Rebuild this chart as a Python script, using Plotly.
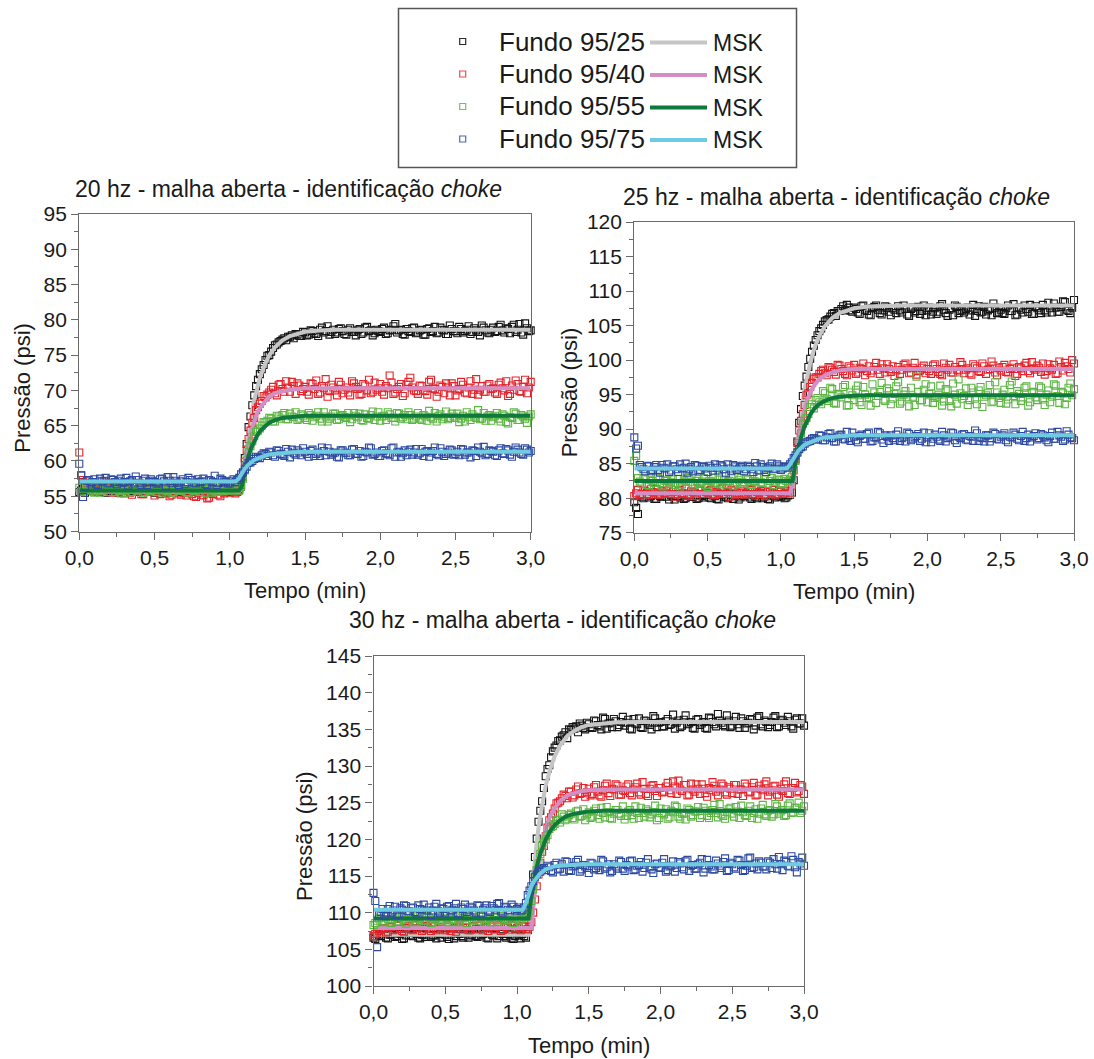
import plotly.graph_objects as go

W, H = 1094, 1059
FONT = "Arial, Liberation Sans, sans-serif"
INK = "#1a1a1a"
FRAME = "#6a6a6a"

# Logged pressure: samples on the quarter grid (0, 0.025, ... 3.0 min) and
# the interleaved samples half a step later (0.0125, 0.0375, ... 2.9875 min)
T_DATA = [round(i * 0.025, 4) for i in range(121)]
T_MID = [round(0.0125 + i * 0.025, 4) for i in range(120)]

# ---------------- 20 hz ----------------
P20_95_25 = [
    55.6, 56.1, 55.8, 56.2, 55.7, 55.9, 56.0, 55.5, 55.8, 56.1,
    55.6, 55.9, 56.2, 55.7, 55.8, 56.0, 55.6, 55.9, 56.1, 55.7,
    55.5, 55.9, 56.0, 55.8, 55.6, 56.2, 55.9, 55.7, 55.8, 56.0,
    55.6, 55.9, 55.7, 56.1, 55.8, 55.5, 55.9, 56.0, 55.7, 55.8,
    55.6, 55.9, 55.7, 56.4, 60.4, 64.8, 67.9, 70.6, 72.3, 73.6,
    74.9, 75.5, 76.4, 76.8, 77.2, 77.1, 77.6, 77.4, 77.9, 77.7,
    78.2, 77.9, 78.4, 78.0, 78.6, 78.2, 79.1, 78.3, 78.0, 78.7,
    78.4, 77.9, 78.8, 78.3, 78.5, 78.0, 78.9, 78.4, 77.8, 78.6,
    78.3, 78.9, 78.1, 78.6, 79.4, 78.5, 78.0, 78.7, 78.3, 78.9,
    78.2, 78.6, 77.9, 78.8, 78.4, 78.1, 78.9, 78.5, 78.0, 78.7,
    78.4, 79.0, 78.2, 78.6, 78.0, 78.8, 78.3, 79.2, 78.5, 78.1,
    78.9, 78.4, 79.3, 78.2, 78.7, 79.0, 78.3, 79.4, 77.9, 78.8,
    78.5,
]
P20_95_25_B = [
    55.8, 55.5, 56.0, 55.7, 56.1, 55.6, 55.9, 56.2, 55.7, 55.9,
    55.5, 56.0, 55.8, 56.1, 55.6, 55.9, 55.7, 56.2, 55.8, 55.6,
    56.0, 55.7, 55.9, 55.5, 56.1, 55.8, 55.6, 56.0, 55.9, 55.7,
    56.1, 55.6, 55.8, 55.9, 55.5, 56.0, 55.7, 55.8, 56.1, 55.6,
    55.8, 55.7, 56.0, 57.8, 62.4, 66.3, 69.3, 71.5, 73.0, 74.3,
    75.0, 76.0, 76.5, 77.0, 77.4, 77.6, 77.8, 78.0, 77.7, 78.3,
    77.8, 78.5, 78.1, 77.7, 78.9, 78.4, 77.9, 78.6, 78.2, 78.8,
    78.0, 78.6, 78.3, 77.8, 78.7, 78.2, 79.0, 78.5, 78.1, 78.4,
    78.7, 78.0, 78.5, 79.1, 78.2, 78.6, 77.9, 78.4, 78.8, 78.1,
    78.5, 77.9, 78.7, 78.3, 79.0, 78.2, 78.6, 78.0, 79.2, 78.4,
    78.1, 78.7, 78.4, 79.1, 78.3, 78.5, 77.8, 78.9, 78.2, 78.6,
    78.3, 79.0, 78.5, 78.8, 78.1, 79.3, 78.6, 78.2, 79.5, 78.4,
]
P20_95_40 = [
    61.2, 57.3, 56.4, 55.9, 56.8, 55.6, 56.2, 57.1, 56.0, 55.5,
    56.3, 55.8, 55.4, 56.1, 55.2, 55.9, 56.5, 55.3, 55.7, 56.2,
    55.1, 55.6, 56.0, 55.4, 55.0, 55.7, 56.3, 55.2, 55.5, 55.9,
    55.3, 54.9, 55.6, 55.1, 54.7, 55.4, 55.8, 55.2, 55.6, 56.0,
    55.5, 55.9, 55.6, 56.6, 59.9, 63.1, 65.4, 67.2, 68.1, 69.2,
    69.4, 70.1, 69.6, 70.8, 70.2, 71.3, 69.8, 70.6, 71.0, 69.9,
    70.5, 69.4, 70.9, 71.4, 69.7, 70.3, 69.1, 70.8, 70.0, 71.2,
    69.6, 70.4, 69.3, 71.0, 70.2, 69.5, 70.7, 71.5, 69.8, 70.1,
    70.9, 69.4, 70.3, 71.1, 69.7, 70.5, 69.2, 70.8, 71.8, 70.0,
    69.5, 70.6, 69.9, 71.2, 70.3, 69.1, 70.7, 69.6, 70.4, 71.0,
    69.3, 70.2, 70.8, 69.6, 71.3, 70.1, 69.4, 70.6, 69.8, 70.9,
    70.3, 69.5, 71.1, 70.0, 69.2, 70.7, 71.4, 69.9, 70.5, 69.6,
    71.2,
]
P20_95_40_B = [
    58.0, 56.9, 56.2, 56.6, 55.8, 56.4, 55.7, 56.3, 56.8, 55.9,
    55.6, 56.4, 55.9, 55.5, 56.0, 55.7, 55.3, 56.1, 55.6, 55.8,
    55.9, 55.3, 55.8, 55.6, 55.2, 56.0, 55.4, 55.9, 55.1, 55.6,
    55.0, 55.5, 55.2, 55.8, 54.8, 55.3, 55.6, 55.0, 55.4, 55.8,
    55.7, 55.4, 55.9, 58.3, 61.6, 64.3, 66.1, 67.6, 68.5, 69.0,
    69.7, 70.5, 69.3, 70.9, 69.8, 70.4, 71.2, 69.5, 70.7, 70.2,
    69.8, 71.0, 70.2, 69.5, 70.6, 71.6, 69.9, 70.4, 69.3, 70.8,
    70.1, 69.7, 71.3, 70.5, 69.4, 70.9, 70.0, 69.6, 71.1, 70.3,
    69.8, 70.6, 72.1, 69.5, 70.2, 70.9, 69.6, 71.2, 70.4, 69.9,
    70.7, 70.0, 69.4, 71.5, 70.2, 69.8, 70.5, 71.0, 69.3, 70.6,
    70.0, 71.2, 69.7, 70.4, 69.5, 71.6, 70.1, 69.8, 70.7, 70.2,
    69.7, 70.8, 70.3, 71.3, 69.5, 70.1, 70.9, 69.8, 71.5, 70.4,
]
P20_95_55 = [
    56.2, 55.7, 56.4, 55.9, 55.5, 56.1, 55.8, 56.3, 55.6, 55.9,
    56.2, 55.4, 55.8, 56.0, 55.6, 56.3, 55.9, 55.5, 56.1, 55.7,
    55.9, 56.2, 55.5, 55.8, 56.0, 55.6, 56.3, 55.7, 55.9, 55.4,
    56.1, 55.8, 55.6, 56.2, 55.9, 55.5, 56.0, 55.7, 56.3, 55.8,
    56.0, 55.7, 56.1, 56.4, 58.7, 61.3, 62.8, 64.1, 64.6, 65.5,
    65.7, 66.0, 65.6, 66.3, 66.5, 65.9, 66.7, 66.2, 65.8, 66.6,
    66.1, 66.8, 65.7, 66.4, 66.0, 66.9, 65.6, 66.3, 66.7, 65.9,
    66.5, 66.1, 65.5, 66.8, 66.2, 65.8, 66.6, 66.0, 67.0, 66.3,
    65.7, 66.4, 66.9, 66.1, 65.6, 66.7, 66.2, 65.9, 66.5, 66.0,
    66.8, 65.8, 66.3, 67.1, 66.0, 65.6, 66.6, 66.2, 65.9, 66.7,
    66.1, 65.5, 66.4, 66.9, 65.8, 66.3, 67.2, 66.0, 65.7, 66.5,
    66.2, 66.8, 65.6, 66.4, 65.3, 66.1, 66.7, 65.8, 66.3, 65.4,
    66.6,
]
P20_95_55_B = [
    55.6, 56.0, 55.8, 56.2, 55.7, 55.5, 56.1, 55.9, 56.3, 55.6,
    55.8, 56.1, 55.5, 56.0, 55.9, 55.7, 56.2, 55.6, 55.8, 56.1,
    55.6, 55.9, 56.1, 55.7, 55.5, 56.2, 55.8, 56.0, 55.6, 55.9,
    55.7, 56.0, 55.9, 55.5, 56.1, 55.8, 55.6, 56.2, 55.7, 56.0,
    55.9, 56.2, 55.8, 57.5, 60.1, 62.1, 63.5, 64.3, 65.0, 65.5,
    66.1, 65.6, 66.4, 66.0, 66.8, 65.9, 66.3, 66.9, 66.0, 66.4,
    65.8, 66.5, 66.2, 66.9, 65.6, 66.3, 66.0, 66.7, 65.8, 66.4,
    66.2, 66.8, 65.9, 66.4, 66.7, 65.7, 66.1, 66.5, 65.8, 66.9,
    66.3, 65.8, 66.6, 66.1, 66.8, 66.0, 66.5, 66.9, 65.8, 66.3,
    66.0, 66.5, 65.7, 66.2, 66.8, 66.4, 65.9, 67.0, 66.1, 66.3,
    66.7, 66.0, 65.6, 66.2, 66.6, 66.1, 65.9, 66.8, 66.3, 65.7,
    66.4, 66.0, 66.6, 65.5, 66.2, 66.9, 65.8, 66.5, 66.0, 66.3,
]
P20_95_75 = [
    59.6, 54.9, 57.2, 56.8, 57.4, 56.6, 57.1, 57.6, 56.9, 57.3,
    56.7, 57.5, 57.0, 56.5, 57.3, 57.8, 56.9, 57.2, 56.6, 57.4,
    57.0, 56.8, 57.5, 56.4, 57.2, 57.7, 56.9, 57.1, 56.7, 57.6,
    57.3, 56.8, 57.0, 57.5, 56.6, 57.2, 57.9, 56.9, 57.3, 57.0,
    56.8, 57.4, 57.3, 58.1, 58.8, 59.7, 60.0, 60.6, 60.4, 61.1,
    60.7, 61.2, 60.6, 61.4, 60.9, 61.7, 60.5, 61.1, 61.5, 60.8,
    61.3, 60.6, 61.6, 61.0, 60.7, 61.4, 61.8, 60.9, 61.2, 60.5,
    61.5, 61.1, 60.8, 61.7, 61.0, 60.6, 61.3, 61.9, 60.9, 61.2,
    60.7, 61.5, 61.0, 61.8, 60.6, 61.3, 61.1, 60.8, 61.6, 61.2,
    60.9, 61.7, 61.3, 60.6, 61.4, 61.0, 61.8, 60.7, 61.2, 61.5,
    61.0, 60.8, 61.6, 61.2, 60.5, 61.4, 61.9, 61.1, 60.8, 61.5,
    61.3, 60.7, 61.8, 61.0, 61.5, 60.6, 61.9, 61.2, 60.9, 61.6,
    61.4,
]
P20_95_75_B = [
    57.9, 56.4, 57.3, 57.0, 56.7, 57.5, 57.2, 56.8, 57.4, 57.0,
    57.2, 56.9, 57.6, 57.1, 56.8, 57.3, 56.6, 57.5, 57.0, 57.2,
    56.8, 57.4, 57.1, 57.7, 56.9, 57.2, 56.6, 57.4, 57.0, 57.3,
    56.9, 57.4, 57.1, 56.7, 57.3, 57.0, 56.6, 57.5, 57.1, 56.8,
    57.2, 57.0, 57.6, 58.4, 59.2, 59.8, 60.3, 60.5, 60.8, 61.0,
    61.3, 60.8, 61.5, 61.0, 60.7, 61.3, 61.6, 60.9, 61.2, 61.8,
    61.0, 61.4, 60.7, 61.2, 61.9, 60.8, 61.3, 61.1, 60.6, 61.5,
    61.2, 60.8, 61.6, 61.0, 61.4, 60.7, 61.2, 61.8, 61.0, 60.7,
    61.4, 61.1, 60.8, 61.9, 61.2, 60.6, 61.5, 61.3, 60.9, 61.7,
    61.1, 60.7, 61.4, 61.2, 61.9, 60.8, 61.3, 61.0, 61.6, 60.9,
    61.3, 61.7, 60.9, 61.2, 61.5, 60.7, 61.3, 62.0, 61.0, 61.4,
    60.8, 61.5, 61.1, 61.7, 60.9, 61.3, 61.6, 61.0, 61.8, 61.2,
]

# ---------------- 25 hz ----------------
P25_95_25 = [
    79.4, 77.7, 80.2, 80.6, 80.1, 80.5, 79.9, 80.3, 80.7, 80.2,
    80.4, 79.8, 80.3, 80.6, 80.0, 80.5, 80.2, 79.9, 80.4, 80.1,
    80.6, 80.0, 80.3, 79.8, 80.5, 80.2, 80.7, 79.9, 80.4, 80.1,
    80.3, 80.6, 79.9, 80.2, 80.5, 80.0, 80.4, 79.8, 80.3, 80.6,
    80.2, 80.0, 80.4, 80.8, 85.6, 90.9, 94.8, 97.6, 100.2, 102.1,
    103.6, 104.6, 105.6, 105.9, 106.7, 106.4, 107.1, 107.8, 108.0, 107.2,
    107.6, 106.9, 107.8, 107.3, 106.6, 107.5, 107.9, 106.8, 107.2, 107.6,
    106.5, 107.3, 107.8, 106.9, 107.4, 106.4, 107.6, 107.1, 106.7, 107.9,
    107.2, 106.6, 107.5, 107.0, 108.1, 106.8, 107.3, 106.5, 107.7, 107.1,
    106.9, 107.6, 107.2, 106.4, 107.8, 107.0, 106.6, 107.4, 108.2, 106.8,
    107.3, 106.7, 107.9, 107.1, 106.5, 107.6, 106.9, 107.4, 108.0, 106.7,
    107.5, 106.8, 107.2, 108.3, 106.9, 107.6, 107.0, 108.5, 107.3, 106.8,
    108.7,
]
P25_95_25_B = [
    78.6, 80.4, 80.0, 80.7, 80.3, 79.9, 80.5, 80.2, 80.6, 79.8,
    80.3, 80.6, 80.1, 79.9, 80.5, 80.2, 80.7, 80.0, 80.3, 80.5,
    80.1, 80.4, 79.9, 80.6, 80.2, 80.0, 80.5, 80.3, 79.8, 80.4,
    80.6, 80.1, 80.4, 80.0, 80.7, 80.2, 79.9, 80.5, 80.1, 80.3,
    80.4, 80.1, 80.5, 82.6, 88.2, 92.9, 96.3, 99.0, 101.2, 102.9,
    104.2, 105.1, 105.8, 106.3, 106.8, 107.1, 107.4, 107.2, 107.6, 107.0,
    107.4, 106.7, 107.9, 107.1, 106.5, 107.7, 107.3, 106.6, 107.8, 107.0,
    107.5, 106.8, 107.2, 107.9, 106.6, 107.4, 106.9, 107.7, 107.1, 106.5,
    107.6, 107.0, 106.7, 107.8, 107.3, 106.4, 107.5, 107.9, 106.8, 107.2,
    107.4, 106.6, 108.0, 107.1, 106.9, 107.7, 107.2, 106.5, 107.6, 107.0,
    106.8, 107.5, 107.1, 108.1, 106.6, 107.3, 107.9, 107.0, 106.7, 107.8,
    107.2, 108.0, 106.9, 107.5, 108.2, 107.0, 107.7, 108.4, 107.1, 107.6,
]
P25_95_40 = [
    80.3, 81.2, 80.6, 81.0, 80.4, 80.9, 81.3, 80.5, 80.8, 81.1,
    80.6, 80.2, 81.0, 80.7, 81.4, 80.5, 80.9, 80.3, 81.1, 80.6,
    80.8, 81.2, 80.4, 80.7, 81.5, 80.6, 80.2, 81.0, 80.7, 81.3,
    80.5, 80.9, 81.2, 80.4, 80.8, 81.0, 80.3, 80.9, 81.2, 80.6,
    80.9, 80.7, 81.1, 81.8, 85.7, 89.8, 92.2, 94.9, 96.1, 97.3,
    97.5, 98.4, 98.1, 99.0, 98.6, 97.9, 99.2, 98.4, 97.8, 98.9,
    99.3, 98.2, 98.7, 97.8, 99.1, 98.5, 99.6, 98.0, 98.8, 99.4,
    98.3, 97.7, 99.0, 98.6, 99.5, 98.1, 98.9, 97.9, 98.5, 99.2,
    98.7, 98.0, 99.4, 98.3, 97.8, 98.9, 99.3, 98.2, 98.6, 99.7,
    98.1, 98.8, 97.9, 99.1, 98.4, 99.5, 98.0, 98.7, 99.2, 97.8,
    98.5, 99.3, 98.2, 98.9, 97.7, 99.0, 98.4, 99.6, 98.1, 98.8,
    99.2, 98.3, 97.9, 99.4, 98.6, 98.0, 99.8, 98.5, 99.1, 98.2,
    99.5,
]
P25_95_40_B = [
    80.7, 80.4, 81.1, 80.6, 81.3, 80.8, 80.5, 81.0, 80.7, 81.4,
    80.9, 80.5, 81.2, 80.7, 80.3, 81.0, 80.8, 81.3, 80.6, 80.9,
    81.1, 80.5, 80.9, 81.3, 80.6, 80.9, 81.2, 80.4, 80.8, 81.0,
    80.7, 81.3, 80.6, 80.9, 81.1, 80.5, 81.0, 80.7, 80.4, 81.1,
    80.6, 81.0, 80.8, 84.0, 88.0, 91.2, 93.5, 95.2, 96.7, 97.5,
    98.0, 98.6, 97.8, 98.9, 98.3, 99.3, 98.7, 98.0, 99.1, 98.5,
    98.0, 98.9, 99.5, 98.4, 98.1, 99.0, 98.6, 99.4, 98.2, 98.7,
    99.1, 98.5, 98.0, 99.3, 98.8, 98.2, 99.6, 98.4, 98.9, 98.1,
    98.4, 99.2, 98.7, 98.0, 99.5, 98.6, 98.2, 99.0, 98.5, 99.3,
    98.6, 98.1, 99.4, 98.8, 98.3, 99.1, 98.6, 99.8, 98.2, 98.9,
    99.0, 98.3, 98.7, 99.4, 98.0, 98.8, 99.2, 98.4, 99.7, 98.6,
    98.9, 99.5, 98.4, 98.8, 99.3, 98.1, 99.0, 99.6, 98.7, 100.0,
]
P25_95_55 = [
    85.4, 82.9, 82.1, 82.7, 81.8, 82.5, 83.0, 82.2, 81.7, 82.6,
    82.3, 81.9, 82.8, 82.0, 82.4, 83.1, 81.8, 82.5, 82.2, 82.9,
    81.6, 82.4, 82.1, 82.7, 83.2, 82.0, 82.5, 81.8, 82.3, 82.9,
    82.1, 82.6, 81.9, 82.4, 83.0, 82.2, 84.3, 82.5, 81.9, 82.7,
    82.2, 82.8, 82.4, 83.1, 85.4, 88.0, 90.8, 91.6, 93.2, 93.0,
    94.5, 93.6, 95.2, 94.1, 95.8, 93.7, 94.9, 96.1, 93.4, 95.3,
    94.2, 96.3, 93.5, 95.0, 94.6, 96.5, 93.8, 95.4, 94.3, 95.9,
    93.6, 95.1, 96.8, 94.0, 95.5, 93.3, 94.7, 97.6, 94.2, 95.7,
    93.9, 96.2, 94.5, 95.0, 93.4, 95.8, 94.1, 96.6, 93.7, 95.2,
    94.8, 93.5, 96.0, 94.4, 95.6, 93.2, 94.9, 96.4, 94.0, 95.3,
    93.8, 95.7, 94.3, 96.9, 93.6, 95.1, 94.6, 96.2, 93.9, 95.4,
    94.2, 96.0, 93.5, 95.6, 94.7, 96.3, 93.8, 95.2, 94.5, 96.6,
    95.8,
]
P25_95_55_B = [
    86.1, 82.4, 82.8, 81.9, 82.6, 82.2, 82.9, 81.8, 82.5, 82.1,
    82.7, 82.2, 81.7, 82.6, 82.9, 82.3, 82.0, 82.8, 82.4, 81.9,
    82.5, 82.9, 82.2, 82.0, 82.7, 82.4, 83.0, 82.1, 82.6, 82.3,
    82.8, 82.0, 82.5, 83.1, 82.3, 82.7, 82.1, 82.9, 82.4, 82.6,
    82.0, 82.5, 82.7, 84.1, 86.7, 89.4, 91.2, 92.2, 93.6, 94.2,
    93.9, 95.5, 94.4, 96.0, 93.8, 95.1, 94.6, 96.4, 93.5, 94.9,
    95.7, 93.9, 96.1, 94.5, 93.4, 95.3, 94.8, 96.7, 94.1, 95.5,
    94.4, 96.2, 93.7, 95.0, 94.6, 96.0, 93.5, 95.4, 94.2, 96.5,
    95.1, 93.8, 94.7, 96.3, 94.0, 95.6, 93.3, 95.0, 97.2, 94.4,
    95.9, 94.2, 95.3, 93.6, 96.1, 94.7, 95.2, 93.9, 96.8, 94.5,
    95.0, 93.7, 96.4, 94.8, 95.5, 94.1, 96.0, 93.4, 95.2, 94.6,
    96.2, 94.3, 95.0, 93.9, 96.5, 94.8, 95.4, 93.6, 96.0, 94.9,
]
P25_95_75 = [
    88.8, 87.6, 84.5, 83.9, 84.6, 84.1, 84.8, 83.7, 84.4, 84.9,
    84.0, 84.6, 83.8, 84.3, 85.0, 84.2, 83.9, 84.7, 84.1, 84.5,
    83.8, 84.4, 84.9, 84.0, 84.6, 83.6, 84.3, 84.8, 84.1, 84.5,
    83.9, 84.7, 84.2, 85.1, 84.0, 84.5, 83.8, 84.6, 84.2, 84.9,
    84.1, 84.5, 84.4, 85.2, 86.2, 87.1, 87.5, 88.1, 88.3, 88.7,
    88.5, 89.0, 88.4, 89.3, 88.7, 88.2, 89.1, 88.6, 89.6, 88.3,
    88.9, 88.1, 89.2, 88.6, 89.5, 88.3, 88.8, 89.4, 88.0, 88.9,
    89.1, 88.4, 89.7, 88.7, 88.2, 89.3, 88.6, 89.0, 88.3, 89.5,
    88.8, 88.1, 89.2, 88.5, 89.6, 88.2, 88.9, 89.4, 88.0, 88.7,
    89.3, 88.4, 88.9, 89.8, 88.3, 88.7, 89.1, 88.2, 89.5, 88.6,
    88.9, 89.4, 88.1, 88.8, 89.2, 88.4, 89.6, 88.7, 88.2, 89.0,
    88.5, 89.3, 88.8, 88.1, 89.5, 88.6, 89.1, 88.3, 89.7, 88.8,
    88.4,
]
P25_95_75_B = [
    87.2, 84.8, 84.2, 84.7, 83.9, 84.5, 84.1, 84.8, 84.3, 83.8,
    84.6, 84.2, 84.9, 84.4, 83.7, 84.5, 84.8, 84.0, 84.6, 84.3,
    84.7, 84.0, 84.4, 84.8, 84.2, 84.9, 83.9, 84.6, 84.3, 84.7,
    84.2, 84.5, 83.8, 84.6, 84.9, 84.1, 84.4, 85.0, 84.3, 84.6,
    84.3, 84.6, 84.9, 85.8, 86.6, 87.4, 87.9, 88.2, 88.6, 88.5,
    89.1, 88.4, 88.8, 89.4, 88.2, 88.9, 89.2, 88.5, 88.7, 89.5,
    88.4, 89.0, 88.6, 89.3, 88.2, 88.8, 89.6, 88.5, 89.1, 88.3,
    88.7, 89.2, 88.3, 88.9, 89.5, 88.4, 88.8, 89.3, 88.6, 88.1,
    89.4, 88.6, 88.9, 88.3, 89.1, 88.7, 89.5, 88.4, 88.9, 89.2,
    88.5, 89.0, 88.3, 89.4, 88.8, 88.2, 89.1, 88.7, 89.3, 88.5,
    89.1, 88.4, 88.9, 89.5, 88.6, 89.0, 88.3, 89.2, 88.8, 89.4,
    88.7, 89.1, 88.4, 89.0, 88.6, 89.6, 88.9, 88.5, 89.2, 88.7,
]

# ---------------- 30 hz ----------------
P30_95_25 = [
    106.6, 107.1, 106.8, 107.3, 106.5, 107.0, 106.7, 107.2, 106.4, 106.9,
    107.3, 106.8, 107.1, 106.5, 107.0, 107.4, 106.7, 106.9, 107.2, 106.6,
    107.0, 106.4, 107.3, 106.8, 107.1, 106.6, 107.2, 106.9, 107.4, 106.7,
    106.9, 107.2, 106.5, 107.0, 107.3, 106.8, 107.1, 106.6, 107.0, 106.4,
    107.2, 106.5, 106.8, 107.6, 112.3, 117.6, 122.4, 125.2, 128.6, 130.1,
    132.0, 132.8, 133.5, 134.2, 133.8, 134.9, 135.1, 134.6, 135.5, 135.0,
    135.7, 135.2, 136.1, 135.4, 136.6, 135.1, 135.9, 136.4, 135.3, 136.0,
    135.5, 136.3, 135.0, 135.8, 136.5, 135.2, 136.1, 135.6, 136.8, 135.3,
    136.0, 135.4, 136.4, 135.7, 135.1, 136.2, 135.5, 136.9, 135.8, 135.2,
    136.3, 135.6, 136.0, 135.1, 136.5, 135.7, 137.1, 135.9, 135.4, 136.2,
    135.5, 136.7, 135.2, 136.1, 135.8, 136.4, 135.0, 136.6, 135.7, 136.2,
    135.3, 136.0, 136.8, 135.4, 136.3, 135.6, 136.1, 135.1, 136.5, 135.8,
    135.5,
]
P30_95_25_B = [
    106.4, 106.9, 107.2, 106.6, 107.0, 107.4, 106.8, 107.1, 106.5, 107.3,
    106.9, 107.2, 106.6, 107.0, 106.7, 107.3, 106.9, 106.5, 107.1, 107.4,
    106.7, 107.0, 106.5, 107.2, 106.8, 107.3, 106.6, 107.0, 106.8, 107.2,
    107.1, 106.6, 107.3, 106.9, 106.5, 107.2, 106.8, 107.1, 106.5, 106.8,
    106.9, 107.1, 106.6, 109.4, 115.2, 120.1, 123.9, 127.0, 129.6, 131.2,
    132.5, 133.4, 134.0, 134.6, 135.0, 135.3, 135.4, 135.8, 135.2, 135.9,
    135.3, 136.2, 135.6, 135.0, 136.4, 135.8, 135.3, 136.1, 135.6, 136.7,
    135.9, 135.1, 136.4, 135.7, 135.3, 136.2, 135.8, 135.0, 136.5, 135.9,
    135.4, 136.1, 135.6, 137.0, 135.9, 135.3, 136.3, 135.7, 136.0, 135.1,
    136.4, 135.8, 135.2, 136.6, 136.0, 135.4, 136.2, 135.6, 136.9, 135.3,
    136.1, 135.7, 136.5, 135.2, 135.9, 136.3, 135.5, 136.8, 135.4, 136.0,
    135.6, 136.6, 135.3, 136.2, 135.9, 136.7, 135.4, 136.3, 135.8, 136.5,
]
P30_95_40 = [
    106.8, 107.3, 107.6, 107.9, 107.4, 108.1, 107.7, 108.3, 107.5, 107.9,
    108.2, 107.6, 107.9, 108.4, 107.7, 108.0, 107.5, 108.2, 107.8, 108.5,
    107.6, 108.1, 107.8, 107.4, 108.3, 107.9, 108.0, 107.6, 108.2, 107.7,
    108.4, 107.9, 107.5, 108.1, 107.8, 108.3, 107.6, 108.0, 107.7, 108.2,
    107.9, 107.6, 108.1, 107.8, 108.7, 111.8, 115.2, 118.3, 120.4, 122.6,
    123.5, 124.9, 125.2, 126.1, 125.6, 126.5, 126.0, 127.2, 126.3, 125.8,
    126.9, 126.2, 127.4, 126.0, 126.7, 127.6, 125.9, 126.8, 127.3, 126.1,
    126.6, 127.5, 126.0, 127.1, 126.4, 127.8, 126.2, 126.9, 127.4, 125.9,
    127.0, 126.5, 127.7, 126.3, 127.2, 128.0, 126.6, 127.4, 126.1, 126.8,
    127.5, 126.2, 126.9, 125.8, 126.7, 127.3, 126.0, 127.6, 126.4, 127.1,
    126.3, 127.4, 126.8, 125.9, 127.2, 126.5, 127.7, 126.1, 126.9, 127.5,
    126.0, 126.7, 127.3, 125.8, 126.6, 127.9, 126.2, 127.0, 126.4, 127.4,
    126.2,
]
P30_95_40_B = [
    107.1, 107.5, 107.8, 107.3, 108.0, 107.6, 108.2, 107.8, 107.4, 108.1,
    107.7, 108.3, 107.9, 107.5, 108.2, 107.8, 108.4, 107.6, 108.0, 107.7,
    108.3, 107.5, 107.9, 108.1, 107.7, 108.4, 107.6, 108.1, 107.8, 108.2,
    107.6, 108.0, 108.3, 107.7, 108.1, 107.5, 108.2, 107.9, 108.3, 107.7,
    108.0, 108.2, 107.7, 108.1, 110.0, 113.6, 116.8, 119.1, 121.6, 123.0,
    124.2, 125.0, 125.6, 125.9, 126.5, 125.7, 126.8, 126.2, 127.0, 126.4,
    126.0, 127.1, 126.5, 125.8, 127.3, 126.3, 126.9, 127.5, 126.1, 126.7,
    127.2, 126.3, 126.8, 127.6, 126.1, 126.9, 125.9, 127.3, 126.6, 127.0,
    126.4, 127.2, 126.7, 127.9, 126.2, 126.8, 127.4, 126.0, 127.6, 126.5,
    126.9, 127.5, 126.3, 127.0, 127.8, 126.5, 126.8, 127.3, 126.1, 126.9,
    127.4, 126.2, 126.8, 127.6, 126.4, 127.1, 126.0, 127.3, 126.7, 127.9,
    126.5, 127.2, 126.1, 126.9, 127.5, 126.3, 127.0, 127.7, 126.6, 127.2,
]
P30_95_55 = [
    108.3, 108.9, 109.3, 108.7, 109.1, 108.6, 109.4, 108.8, 109.2, 108.5,
    109.0, 109.5, 108.7, 109.2, 108.9, 109.6, 108.6, 109.1, 109.4, 108.8,
    109.3, 108.7, 109.0, 109.5, 108.8, 109.2, 108.6, 109.4, 109.0, 108.9,
    109.6, 108.8, 109.2, 108.7, 109.3, 109.0, 109.5, 108.9, 109.1, 108.6,
    109.3, 109.0, 109.4, 109.6, 111.6, 114.8, 116.7, 119.1, 120.0, 121.4,
    121.8, 122.6, 122.3, 123.1, 122.8, 123.5, 122.7, 123.9, 123.2, 122.6,
    123.7, 123.1, 124.2, 122.8, 123.6, 124.4, 122.9, 123.5, 124.0, 123.2,
    122.7, 123.8, 123.3, 124.5, 122.9, 123.6, 124.1, 123.0, 123.7, 122.6,
    124.2, 123.4, 122.8, 123.9, 124.6, 123.1, 123.5, 122.7, 124.0, 123.3,
    123.8, 122.9, 124.3, 123.2, 123.6, 124.7, 123.0, 123.4, 122.8, 124.1,
    123.5, 124.4, 122.9, 123.7, 123.2, 124.5, 123.6, 122.8, 124.2, 123.4,
    123.9, 123.1, 124.8, 123.5, 124.0, 123.3, 124.9, 123.7, 124.3, 123.6,
    124.5,
]
P30_95_55_B = [
    108.6, 109.2, 108.9, 109.4, 108.7, 109.1, 108.8, 109.5, 109.0, 108.7,
    109.3, 108.8, 109.1, 109.6, 108.9, 109.3, 108.7, 109.0, 109.5, 109.1,
    108.8, 109.4, 109.1, 108.7, 109.3, 109.0, 109.5, 108.9, 109.2, 109.6,
    109.1, 108.9, 109.4, 109.0, 108.8, 109.5, 109.2, 109.0, 109.4, 109.1,
    108.9, 109.2, 109.5, 110.2, 113.2, 115.8, 118.0, 119.6, 120.6, 121.7,
    122.1, 122.7, 123.4, 122.6, 123.3, 122.9, 123.8, 123.1, 124.1, 123.4,
    122.9, 123.9, 123.3, 124.3, 123.0, 123.7, 122.8, 124.0, 123.5, 124.5,
    123.2, 124.0, 122.8, 123.6, 124.3, 123.1, 123.9, 123.4, 124.6, 122.9,
    123.6, 124.1, 123.0, 123.7, 124.4, 122.8, 123.5, 124.2, 123.1, 123.8,
    124.4, 123.3, 123.9, 122.9, 124.0, 123.6, 124.8, 123.2, 123.7, 124.3,
    123.1, 123.8, 124.6, 123.3, 123.9, 122.9, 124.1, 123.5, 124.7, 123.2,
    124.0, 123.4, 124.5, 123.8, 123.2, 124.6, 123.6, 124.3, 125.0, 123.9,
]
P30_95_75 = [
    112.7, 105.3, 110.1, 109.6, 110.5, 110.0, 110.8, 109.8, 110.4, 110.9,
    110.2, 110.7, 109.9, 110.5, 111.1, 110.3, 109.7, 110.8, 110.2, 110.6,
    110.0, 110.9, 110.4, 111.2, 109.8, 110.5, 110.1, 110.8, 110.3, 111.0,
    109.9, 110.6, 110.2, 110.9, 110.4, 111.3, 110.0, 110.7, 110.3, 110.8,
    110.5, 110.2, 110.7, 112.4, 113.6, 114.9, 115.6, 115.9, 115.8, 116.2,
    115.5, 116.8, 116.0, 115.6, 116.9, 115.7, 116.4, 117.2, 115.9, 116.3,
    115.4, 116.7, 116.1, 115.8, 117.0, 116.2, 115.5, 116.6, 116.0, 116.9,
    115.7, 116.3, 117.1, 115.9, 116.5, 115.6, 116.8, 116.2, 115.4, 116.7,
    116.1, 117.3, 115.8, 116.4, 115.6, 116.9, 116.2, 117.0, 115.7, 116.5,
    116.0, 116.8, 115.5, 117.2, 116.3, 115.9, 116.7, 116.1, 117.4, 115.8,
    116.6, 116.0, 117.1, 115.7, 116.4, 117.5, 116.2, 115.9, 116.8, 116.3,
    117.0, 116.1, 116.6, 117.6, 115.8, 116.9, 116.3, 117.2, 115.5, 116.7,
    116.4,
]
P30_95_75_B = [
    111.6, 109.8, 110.5, 110.0, 110.9, 110.3, 109.7, 110.6, 111.0, 110.2,
    110.6, 110.1, 111.0, 110.4, 109.8, 110.7, 110.3, 111.2, 110.0, 110.5,
    110.8, 110.2, 110.6, 109.9, 110.7, 111.1, 110.3, 110.6, 110.0, 110.9,
    110.4, 111.0, 110.1, 110.6, 111.2, 110.2, 110.8, 110.4, 111.1, 110.3,
    110.7, 110.4, 111.3, 113.0, 114.3, 115.2, 115.6, 116.1, 116.4, 115.7,
    116.5, 115.9, 116.6, 117.0, 115.8, 116.3, 116.9, 115.6, 116.5, 116.1,
    116.8, 115.9, 116.4, 117.2, 116.0, 116.6, 115.7, 116.3, 117.1, 116.0,
    116.5, 117.0, 115.8, 116.4, 116.9, 116.1, 117.3, 115.9, 116.6, 116.2,
    116.8, 115.6, 116.3, 117.0, 116.1, 116.7, 115.9, 117.2, 116.4, 116.0,
    116.6, 117.3, 116.0, 116.5, 115.9, 117.1, 116.4, 116.9, 115.7, 116.8,
    116.2, 117.2, 116.5, 115.8, 117.4, 116.1, 116.7, 117.0, 116.3, 115.9,
    116.8, 117.3, 116.0, 116.6, 117.1, 116.4, 117.7, 116.2, 116.9, 117.5,
]

# MSK model responses, evaluated on a common time grid (min)
T_FIT = [0.00, 1.04, 1.06, 1.08, 1.10, 1.12, 1.14, 1.16, 1.18, 1.20, 1.23,
         1.26, 1.30, 1.35, 1.40, 1.45, 1.50, 1.60, 1.70, 1.85, 2.00, 3.00]

MSK20_95_25 = [55.9, 55.9, 55.9, 55.9, 60.0, 63.4, 66.1, 68.4, 70.2, 71.8, 73.5,
               74.9, 76.1, 77.1, 77.7, 78.0, 78.3, 78.5, 78.6, 78.6, 78.6, 78.6]
MSK20_95_40 = [55.6, 55.6, 55.6, 56.6, 59.8, 62.2, 64.1, 65.6, 66.7, 67.5, 68.4,
               69.1, 69.6, 69.9, 70.1, 70.2, 70.3, 70.3, 70.3, 70.3, 70.3, 70.3]
MSK20_95_55 = [55.8, 55.8, 55.8, 56.4, 58.6, 60.4, 61.7, 62.7, 63.5, 64.2, 64.9,
               65.4, 65.8, 66.1, 66.2, 66.3, 66.4, 66.4, 66.4, 66.4, 66.4, 66.4]
MSK20_95_75 = [57.1, 57.1, 57.5, 58.3, 58.9, 59.4, 59.8, 60.1, 60.3, 60.5, 60.7,
               60.9, 61.0, 61.15, 61.2, 61.25, 61.3, 61.3, 61.3, 61.3, 61.3, 61.3]

MSK25_95_25 = [80.4, 80.4, 80.4, 80.4, 85.4, 89.5, 92.8, 95.6, 97.8, 99.6, 101.8,
               103.4, 104.9, 106.1, 106.8, 107.2, 107.5, 107.75, 107.85, 107.9, 107.9, 107.9]
MSK25_95_40 = [80.7, 80.7, 80.7, 81.9, 85.8, 88.8, 91.1, 92.9, 94.3, 95.3, 96.4,
               97.2, 97.8, 98.2, 98.5, 98.6, 98.7, 98.7, 98.7, 98.7, 98.7, 98.7]
MSK25_95_55 = [82.5, 82.5, 82.5, 82.5, 85.2, 87.4, 89.0, 90.3, 91.3, 92.1, 93.0,
               93.6, 94.1, 94.5, 94.7, 94.8, 94.85, 94.9, 94.9, 94.9, 94.9, 94.9]
MSK25_95_75 = [84.3, 84.3, 84.8, 85.6, 86.3, 86.9, 87.3, 87.7, 87.9, 88.1, 88.4,
               88.6, 88.8, 88.9, 89.0, 89.05, 89.1, 89.1, 89.1, 89.1, 89.1, 89.1]

MSK30_95_25 = [107.0, 107.0, 107.0, 107.0, 112.2, 116.6, 120.1, 123.0, 125.3, 127.3, 129.5,
               131.2, 132.8, 134.1, 134.8, 135.3, 135.6, 135.8, 135.95, 136.0, 136.0, 136.0]
MSK30_95_40 = [107.9, 107.9, 107.9, 107.9, 107.9, 112.1, 115.3, 117.9, 119.8, 121.4, 123.1,
               124.2, 125.2, 126.0, 126.3, 126.6, 126.7, 126.8, 126.8, 126.8, 126.8, 126.8]
MSK30_95_55 = [109.2, 109.2, 109.2, 109.2, 112.1, 114.5, 116.4, 117.9, 119.1, 120.0, 121.1,
               121.9, 122.6, 123.2, 123.5, 123.7, 123.8, 123.9, 123.9, 123.9, 123.9, 123.9]
MSK30_95_75 = [110.4, 110.4, 111.2, 112.6, 113.6, 114.3, 114.9, 115.3, 115.6, 115.9, 116.1,
               116.3, 116.4, 116.5, 116.55, 116.6, 116.6, 116.6, 116.6, 116.6, 116.6, 116.6]

SERIES_NAMES = ["Fundo 95/25", "Fundo 95/40", "Fundo 95/55", "Fundo 95/75"]
MARKER_COLORS = ["#141414", "#e3242b", "#5db544", "#2c4aa0"]
LEGEND_MARKER_COLORS = ["#2a2a2a", "#ec4a50", "#74c45a", "#5366b4"]
FIT_COLORS = ["#c6c6c6", "#d48ec6", "#0d7a3b", "#6ecbe0"]
FIT_NAME = "MSK"

Y_TICKS_20 = [50, 55, 60, 65, 70, 75, 80, 85, 90, 95]
Y_TICKS_25 = [75, 80, 85, 90, 95, 100, 105, 110, 115, 120]
Y_TICKS_30 = [100, 105, 110, 115, 120, 125, 130, 135, 140, 145]
X_TICKS = [0.0, 0.5, 1.0, 1.5, 2.0, 2.5, 3.0]

PANELS = [
    dict(title="20 hz - malha aberta - identificação <i>choke</i>",
         data=[(P20_95_25, P20_95_25_B), (P20_95_40, P20_95_40_B),
               (P20_95_55, P20_95_55_B), (P20_95_75, P20_95_75_B)],
         fits=[MSK20_95_25, MSK20_95_40, MSK20_95_55, MSK20_95_75],
         yticks=Y_TICKS_20,
         box=(79.3, 530.7, 214.0, 531.5), title_at=(288, 189), ytitle_x=23),
    dict(title="25 hz - malha aberta - identificação <i>choke</i>",
         data=[(P25_95_25, P25_95_25_B), (P25_95_40, P25_95_40_B),
               (P25_95_55, P25_95_55_B), (P25_95_75, P25_95_75_B)],
         fits=[MSK25_95_25, MSK25_95_40, MSK25_95_55, MSK25_95_75],
         yticks=Y_TICKS_25,
         box=(634.3, 1074.0, 222.0, 532.7), title_at=(836, 197), ytitle_x=569),
    dict(title="30 hz - malha aberta - identificação <i>choke</i>",
         data=[(P30_95_25, P30_95_25_B), (P30_95_40, P30_95_40_B),
               (P30_95_55, P30_95_55_B), (P30_95_75, P30_95_75_B)],
         fits=[MSK30_95_25, MSK30_95_40, MSK30_95_55, MSK30_95_75],
         yticks=Y_TICKS_30,
         box=(373.5, 804.0, 656.0, 986.0), title_at=(562, 620), ytitle_x=304),
]


def px(x):
    return x / W


def py(y):
    return 1 - y / H


fig = go.Figure()
annotations = []
shapes = []

for k, panel in enumerate(PANELS, start=1):
    xa = "x" if k == 1 else f"x{k}"
    ya = "y" if k == 1 else f"y{k}"
    for (on_grid, mid_grid), fit, mcol, fcol, name in zip(
            panel["data"], panel["fits"], MARKER_COLORS, FIT_COLORS, SERIES_NAMES):
        fig.add_trace(go.Scatter(
            x=T_DATA + T_MID, y=on_grid + mid_grid, mode="markers", name=name,
            showlegend=False, xaxis=xa, yaxis=ya, cliponaxis=False,
            marker=dict(symbol="square-open", size=7, color=mcol,
                        line=dict(width=1.1, color=mcol)),
        ))
        fig.add_trace(go.Scatter(
            x=T_FIT, y=fit, mode="lines", name=FIT_NAME, showlegend=False,
            xaxis=xa, yaxis=ya, line=dict(color=fcol, width=4),
        ))

    left, right, top, bottom = panel["box"]
    yt = panel["yticks"]
    axis_style = dict(
        showline=True, linecolor=FRAME, linewidth=1.3, mirror=True,
        ticks="outside", ticklen=7, tickwidth=1.3, tickcolor=FRAME,
        showgrid=False, zeroline=False, automargin=False,
        tickfont=dict(family=FONT, size=21, color=INK),
    )
    xkey = "xaxis" if k == 1 else f"xaxis{k}"
    ykey = "yaxis" if k == 1 else f"yaxis{k}"
    fig.update_layout(**{
        xkey: dict(axis_style, domain=[px(left), px(right)], anchor=ya,
                   range=[0, 3], tickvals=X_TICKS, tickformat=".1f",
                   minor=dict(ticks="outside", ticklen=4, tickwidth=1,
                              tickcolor=FRAME, dtick=0.25, showgrid=False)),
        ykey: dict(axis_style, domain=[py(bottom), py(top)], anchor=xa,
                   range=[yt[0], yt[-1]], tickvals=yt,
                   minor=dict(ticks="outside", ticklen=4, tickwidth=1,
                              tickcolor=FRAME, dtick=2.5, showgrid=False)),
    })

    tx, ty = panel["title_at"]
    annotations.append(dict(text=panel["title"], x=px(tx), y=py(ty),
                            xref="paper", yref="paper", showarrow=False,
                            xanchor="center", yanchor="middle",
                            font=dict(family=FONT, size=23, color=INK)))
    annotations.append(dict(text="Tempo (min)", x=px((left + right) / 2),
                            y=py(bottom + 59), xref="paper", yref="paper",
                            showarrow=False, xanchor="center", yanchor="middle",
                            font=dict(family=FONT, size=22, color=INK)))
    annotations.append(dict(text="Pressão (psi)", x=px(panel["ytitle_x"]),
                            y=py((top + bottom) / 2 + 15), xref="paper",
                            yref="paper", showarrow=False, textangle=-90,
                            xanchor="center", yanchor="middle",
                            font=dict(family=FONT, size=22, color=INK)))

# Legend box: marker + series name, then model line + "MSK"
shapes.append(dict(type="rect", xref="paper", yref="paper",
                   x0=px(398.5), x1=px(796.5), y0=py(167.5), y1=py(8.5),
                   line=dict(color="#555555", width=1.5), fillcolor="white"))
LEG_ROWS = [41.5, 74.0, 106.5, 139.0]
for row_y, name, mcol, fcol in zip(LEG_ROWS, SERIES_NAMES,
                                   LEGEND_MARKER_COLORS, FIT_COLORS):
    shapes.append(dict(type="rect", xref="paper", yref="paper",
                       x0=px(459.7), x1=px(465.7), y0=py(row_y + 3), y1=py(row_y - 3),
                       line=dict(color=mcol, width=1.2)))
    shapes.append(dict(type="line", xref="paper", yref="paper",
                       x0=px(650), x1=px(707), y0=py(row_y + 1), y1=py(row_y + 1),
                       line=dict(color=fcol, width=4)))
    annotations.append(dict(text=name, x=px(497), y=py(row_y), xref="paper",
                            yref="paper", showarrow=False, xanchor="left",
                            yanchor="middle",
                            font=dict(family=FONT, size=26, color=INK)))
    annotations.append(dict(text=FIT_NAME, x=px(711), y=py(row_y + 1),
                            xref="paper", yref="paper", showarrow=False,
                            xanchor="left", yanchor="middle",
                            font=dict(family=FONT, size=23, color=INK)))

fig.update_layout(
    width=W, height=H, margin=dict(l=0, r=0, t=0, b=0, autoexpand=False),
    paper_bgcolor="white", plot_bgcolor="white",
    separators=",.", showlegend=False,
    annotations=annotations, shapes=shapes,
    font=dict(family=FONT, color=INK),
)

# Page chrome: the figure fills the page edge to edge
fig.write_html(
    "out.html",
    post_script="document.body.style.margin='0';"
                "document.body.style.overflow='hidden';"
                "document.documentElement.style.overflow='hidden';",
)
